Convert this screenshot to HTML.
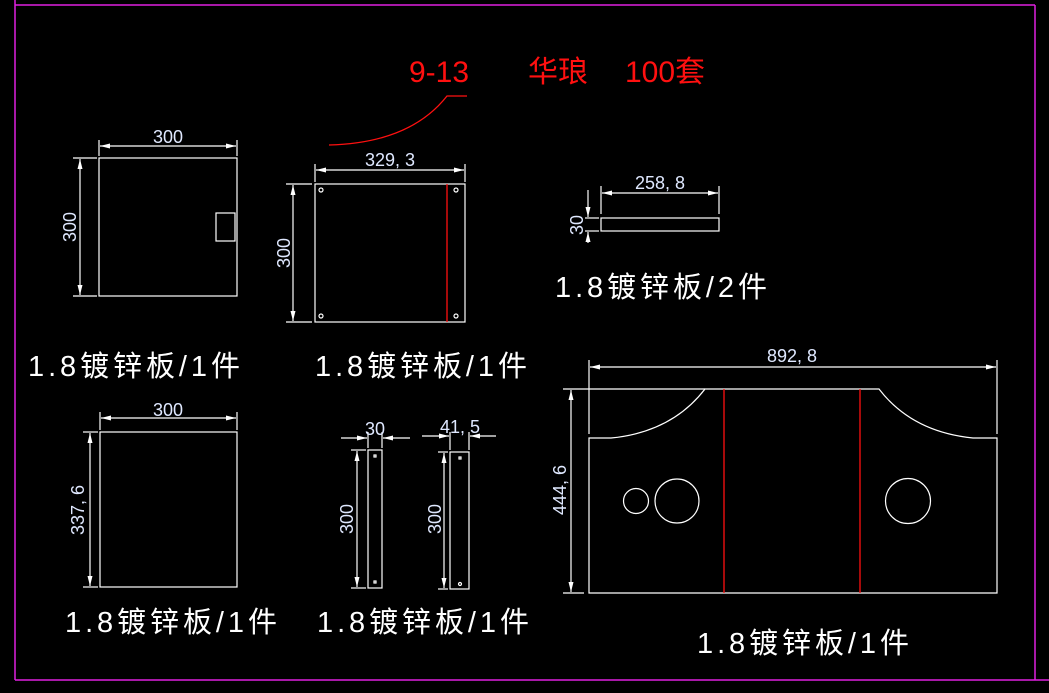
<!DOCTYPE html>
<html><head><meta charset="utf-8"><style>
html,body{margin:0;padding:0;background:#000;}
svg{display:block;}
.d{fill:#dfe8ff;font-family:"Liberation Sans","Noto Sans CJK SC",sans-serif;font-size:18px;}
.l{fill:#fff;font-family:"Liberation Sans","Noto Sans CJK SC",sans-serif;font-size:29px;}
.r{fill:#ff1010;font-family:"Liberation Sans","Noto Sans CJK SC",sans-serif;font-size:30px;}
</style></head><body>
<svg width="1049" height="693" viewBox="0 0 1049 693" xmlns="http://www.w3.org/2000/svg">
<defs>
<marker id="a" viewBox="0 0 10 6" refX="10" refY="3" markerWidth="10" markerHeight="6" markerUnits="userSpaceOnUse" orient="auto-start-reverse"><path d="M10,3 L0,0.5 L0,5.5 Z" fill="#fff"/></marker>
</defs>
<rect x="0" y="0" width="1049" height="693" fill="#000"/>
<line x1="15" y1="0" x2="15" y2="680" stroke="#e020e0" stroke-width="1.5"/>
<line x1="15" y1="680" x2="1049" y2="680" stroke="#e020e0" stroke-width="1.5"/>
<line x1="15" y1="5" x2="1035" y2="5" stroke="#e020e0" stroke-width="1.5"/>
<line x1="1035" y1="5" x2="1035" y2="680" stroke="#e020e0" stroke-width="1.5"/>

<g fill="none" stroke="#fff" stroke-width="1.2">
<!-- panel 1 -->
<rect x="99" y="158" width="138" height="138"/>
<rect x="216" y="213" width="19" height="28"/>
<line x1="99" y1="140" x2="99" y2="156"/><line x1="237" y1="140" x2="237" y2="156"/>
<line x1="100" y1="146" x2="236" y2="146" marker-start="url(#a)" marker-end="url(#a)"/>
<line x1="73" y1="158" x2="97" y2="158"/><line x1="73" y1="296" x2="97" y2="296"/>
<line x1="80" y1="159" x2="80" y2="295" marker-start="url(#a)" marker-end="url(#a)"/>
<!-- panel 2 -->
<rect x="315" y="184" width="150" height="138"/>
<line x1="315" y1="164" x2="315" y2="182"/><line x1="465" y1="164" x2="465" y2="182"/>
<line x1="316" y1="170" x2="464" y2="170" marker-start="url(#a)" marker-end="url(#a)"/>
<line x1="286" y1="184" x2="312" y2="184"/><line x1="286" y1="322" x2="312" y2="322"/>
<line x1="293" y1="185" x2="293" y2="321" marker-start="url(#a)" marker-end="url(#a)"/>
<circle cx="321" cy="190" r="2"/><circle cx="456" cy="190" r="2"/><circle cx="321" cy="316" r="2"/><circle cx="456" cy="316" r="2"/>
<!-- panel 3 -->
<rect x="601" y="218" width="118" height="13"/>
<line x1="601" y1="186" x2="601" y2="214"/><line x1="719" y1="186" x2="719" y2="214"/>
<line x1="602" y1="193" x2="718" y2="193" marker-start="url(#a)" marker-end="url(#a)"/>
<line x1="585" y1="218" x2="599" y2="218"/><line x1="585" y1="231" x2="599" y2="231"/>
<line x1="588" y1="190" x2="588" y2="217" marker-end="url(#a)"/>
<line x1="588" y1="243" x2="588" y2="232" marker-end="url(#a)"/>
<!-- panel 4 -->
<rect x="100" y="432" width="137" height="155"/>
<line x1="100" y1="412" x2="100" y2="430"/><line x1="237" y1="412" x2="237" y2="430"/>
<line x1="101" y1="418" x2="236" y2="418" marker-start="url(#a)" marker-end="url(#a)"/>
<line x1="83" y1="432" x2="98" y2="432"/><line x1="83" y1="587" x2="98" y2="587"/>
<line x1="90" y1="433" x2="90" y2="586" marker-start="url(#a)" marker-end="url(#a)"/>
<!-- panel 5 -->
<rect x="368" y="450" width="14" height="138"/>
<line x1="368" y1="432" x2="368" y2="448"/><line x1="382" y1="432" x2="382" y2="448"/>
<line x1="341" y1="438" x2="367" y2="438" marker-end="url(#a)"/>
<line x1="410" y1="438" x2="383" y2="438" marker-end="url(#a)"/>
<line x1="351" y1="450" x2="366" y2="450"/><line x1="351" y1="588" x2="366" y2="588"/>
<line x1="357" y1="451" x2="357" y2="587" marker-start="url(#a)" marker-end="url(#a)"/>
<rect x="374" y="455" width="2" height="2"/><rect x="374" y="581" width="2" height="2"/>
<!-- panel 6 -->
<rect x="450" y="452" width="19" height="137"/>
<line x1="450" y1="432" x2="450" y2="450"/><line x1="469" y1="432" x2="469" y2="450"/>
<line x1="422" y1="436" x2="449" y2="436" marker-end="url(#a)"/>
<line x1="496" y1="436" x2="470" y2="436" marker-end="url(#a)"/>
<line x1="438" y1="452" x2="448" y2="452"/><line x1="438" y1="589" x2="448" y2="589"/>
<line x1="444" y1="453" x2="444" y2="588" marker-start="url(#a)" marker-end="url(#a)"/>
<rect x="459" y="457" width="2" height="2"/><circle cx="460" cy="584" r="1.5"/>
<!-- panel 7 -->
<path d="M589,438 L611,438 Q672,432 705,389 L879,389 Q912,432 973,438 L997,438 L997,593 L589,593 Z"/>
<line x1="563" y1="389" x2="705" y2="389"/>
<line x1="563" y1="593" x2="584" y2="593"/>
<line x1="589" y1="360" x2="589" y2="434"/><line x1="997" y1="360" x2="997" y2="434"/>
<line x1="590" y1="367" x2="996" y2="367" marker-start="url(#a)" marker-end="url(#a)"/>
<line x1="571" y1="390" x2="571" y2="592" marker-start="url(#a)" marker-end="url(#a)"/>
<circle cx="636" cy="501" r="12.5"/><circle cx="677" cy="501" r="22"/><circle cx="908" cy="501" r="22.5"/>
</g>
<g stroke="#ff1010" stroke-width="1.3" fill="none">
<line x1="447" y1="184" x2="447" y2="322"/>
<line x1="724" y1="389" x2="724" y2="593"/>
<line x1="860" y1="389" x2="860" y2="593"/>
<path d="M329,145 Q410,143 447,96 L467,96"/>
</g>

<text class="d" x="168" y="143" text-anchor="middle">300</text>
<text class="d" transform="translate(76,227) rotate(-90)" text-anchor="middle">300</text>
<text class="d" x="390" y="166" text-anchor="middle">329, 3</text>
<text class="d" transform="translate(290,253) rotate(-90)" text-anchor="middle">300</text>
<text class="d" x="660" y="189" text-anchor="middle">258, 8</text>
<text class="d" transform="translate(583,225) rotate(-90)" text-anchor="middle">30</text>
<text class="d" x="168" y="416" text-anchor="middle">300</text>
<text class="d" transform="translate(84,510) rotate(-90)" text-anchor="middle">337, 6</text>
<text class="d" x="375" y="435" text-anchor="middle">30</text>
<text class="d" transform="translate(353,519) rotate(-90)" text-anchor="middle">300</text>
<text class="d" x="460" y="433" text-anchor="middle">41, 5</text>
<text class="d" transform="translate(441,519) rotate(-90)" text-anchor="middle">300</text>
<text class="d" x="792" y="362" text-anchor="middle">892, 8</text>
<text class="d" transform="translate(566,490) rotate(-90)" text-anchor="middle">444, 6</text>

<text class="l" x="28" y="376" textLength="212" lengthAdjust="spacing">1.8镀锌板/1件</text>
<text class="l" x="315" y="376" textLength="212" lengthAdjust="spacing">1.8镀锌板/1件</text>
<text class="l" x="555" y="297" textLength="212" lengthAdjust="spacing">1.8镀锌板/2件</text>
<text class="l" x="65" y="632" textLength="212" lengthAdjust="spacing">1.8镀锌板/1件</text>
<text class="l" x="317" y="632" textLength="212" lengthAdjust="spacing">1.8镀锌板/1件</text>
<text class="l" x="697" y="653" textLength="212" lengthAdjust="spacing">1.8镀锌板/1件</text>

<text class="r" x="409" y="82">9-13</text>
<text class="r" x="528" y="82">华琅</text>
<text class="r" x="625" y="82">100套</text>
</svg>
</body></html>
